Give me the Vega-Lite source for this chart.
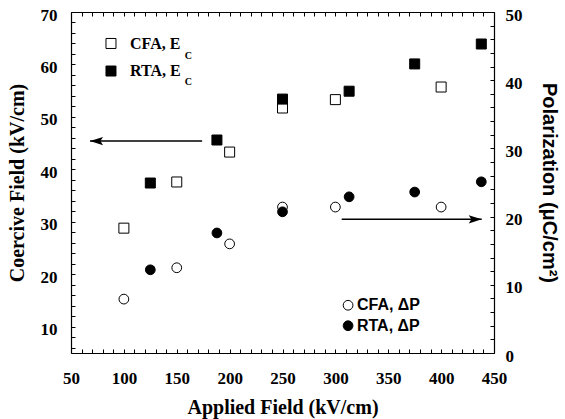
{
  "$schema": "https://vega.github.io/schema/vega-lite/v6.json",
  "width": 423,
  "height": 341,
  "autosize": "none",
  "padding": {"left": 71, "top": 12, "right": 71, "bottom": 66},
  "background": "white",
  "config": {
    "view": {"stroke": null},
    "axis": {
      "grid": false,
      "domainColor": "black",
      "domainWidth": 1.2,
      "tickColor": "black",
      "tickWidth": 1,
      "tickSize": -4,
      "labelColor": "black",
      "labelFont": "Liberation Serif",
      "labelFontWeight": "bold",
      "labelFontSize": 17,
      "titleColor": "black"
    }
  },
  "resolve": {"scale": {"y": "independent"}, "axis": {"x": "independent"}},
  "layer": [
    {
      "encoding": {
        "x": {
          "field": "x", "type": "quantitative",
          "scale": {"domain": [50, 450], "nice": false, "zero": false},
          "axis": {
            "orient": "bottom",
            "values": [50,60,70,80,90,100,110,120,130,140,150,160,170,180,190,200,210,220,230,240,250,260,270,280,290,300,310,320,330,340,350,360,370,380,390,400,410,420,430,440,450],
            "labelExpr": "datum.value % 50 === 0 ? datum.label : ''",
            "labelPadding": 21,
            "labelFlush": false,
            "labelOverlap": false,
            "title": "Applied Field (kV/cm)",
            "titleFont": "Liberation Serif",
            "titleFontWeight": "bold",
            "titleFontSize": 20,
            "titlePadding": 11
          }
        },
        "y": {
          "field": "y", "type": "quantitative",
          "scale": {"domain": [5, 70], "nice": false, "zero": false},
          "axis": {
            "orient": "left",
            "values": [6,8,10,12,14,16,18,20,22,24,26,28,30,32,34,36,38,40,42,44,46,48,50,52,54,56,58,60,62,64,66,68,70],
            "labelExpr": "datum.value % 10 === 0 ? datum.label : ''",
            "labelPadding": 18,
            "labelOffset": 3,
            "labelFlush": false,
            "labelOverlap": false,
            "title": "Coercive Field (kV/cm)",
            "titleFont": "Liberation Serif",
            "titleFontWeight": "bold",
            "titleFontSize": 20,
            "titlePadding": 13
          }
        }
      },
      "layer": [
        {
          "data": {"values": [
            {"s": "CFA", "x": 100, "y": 28.8},
            {"s": "CFA", "x": 150, "y": 37.6},
            {"s": "CFA", "x": 200, "y": 43.3},
            {"s": "CFA", "x": 250, "y": 51.7},
            {"s": "CFA", "x": 300, "y": 53.3},
            {"s": "CFA", "x": 400, "y": 55.7},
            {"s": "RTA", "x": 125, "y": 37.4},
            {"s": "RTA", "x": 188, "y": 45.6},
            {"s": "RTA", "x": 250, "y": 53.4},
            {"s": "RTA", "x": 313, "y": 54.9},
            {"s": "RTA", "x": 375, "y": 60.1},
            {"s": "RTA", "x": 438, "y": 63.9},
            {"s": "CFA", "x": 87.8, "y": 64.0},
            {"s": "RTA", "x": 87.8, "y": 58.75}
          ]},
          "mark": {"type": "point", "shape": "square", "filled": true, "size": 100, "stroke": "black", "strokeWidth": 1, "opacity": 1},
          "encoding": {
            "fill": {"field": "s", "type": "nominal", "scale": {"domain": ["CFA", "RTA"], "range": ["white", "black"]}, "legend": null}
          }
        },
        {
          "data": {"values": [{"x": 68, "x2": 174, "y": 45.4}]},
          "mark": {"type": "rule", "color": "black", "strokeWidth": 1.5},
          "encoding": {"x2": {"field": "x2"}}
        },
        {
          "data": {"values": [{"x": 68, "y": 45.4}]},
          "mark": {"type": "point", "shape": "M0,0L1,-0.32L0.8,0L1,0.32Z", "size": 676, "filled": true, "color": "black", "opacity": 1}
        },
        {
          "data": {"values": [
            {"x": 105.8, "y": 63.9, "t": "CFA,  E"},
            {"x": 105.8, "y": 58.75, "t": "RTA,  E"}
          ]},
          "mark": {"type": "text", "align": "left", "baseline": "middle", "font": "Liberation Serif", "fontWeight": "bold", "fontSize": 16, "color": "black"},
          "encoding": {"text": {"field": "t"}}
        },
        {
          "data": {"values": [
            {"x": 157.5, "y": 61.7, "t": "C"},
            {"x": 157.5, "y": 56.6, "t": "C"}
          ]},
          "mark": {"type": "text", "align": "left", "baseline": "middle", "font": "Liberation Serif", "fontWeight": "bold", "fontSize": 10, "color": "black"},
          "encoding": {"text": {"field": "t"}}
        }
      ]
    },
    {
      "encoding": {
        "x": {
          "field": "x", "type": "quantitative",
          "scale": {"domain": [50, 450], "nice": false, "zero": false},
          "axis": {
            "orient": "top",
            "values": [50,60,70,80,90,100,110,120,130,140,150,160,170,180,190,200,210,220,230,240,250,260,270,280,290,300,310,320,330,340,350,360,370,380,390,400,410,420,430,440,450],
            "labels": false,
            "title": null
          }
        },
        "y": {
          "field": "y", "type": "quantitative",
          "scale": {"domain": [0, 50], "nice": false, "zero": false},
          "axis": {
            "orient": "right",
            "values": [0,2,4,6,8,10,12,14,16,18,20,22,24,26,28,30,32,34,36,38,40,42,44,46,48,50],
            "labelExpr": "datum.value % 10 === 0 ? datum.label : ''",
            "labelPadding": 15,
            "labelOffset": 3,
            "labelFlush": false,
            "labelOverlap": false,
            "title": "Polarization (μC/cm²)",
            "titleFont": "Liberation Sans",
            "titleFontWeight": "bold",
            "titleFontSize": 20,
            "titlePadding": 16
          }
        }
      },
      "layer": [
        {
          "data": {"values": [
            {"s": "CFA", "x": 100, "y": 7.9},
            {"s": "CFA", "x": 150, "y": 12.5},
            {"s": "CFA", "x": 200, "y": 16.0},
            {"s": "CFA", "x": 250, "y": 21.4},
            {"s": "CFA", "x": 300, "y": 21.4},
            {"s": "CFA", "x": 400, "y": 21.4},
            {"s": "RTA", "x": 125, "y": 12.2},
            {"s": "RTA", "x": 188, "y": 17.6},
            {"s": "RTA", "x": 250, "y": 20.7},
            {"s": "RTA", "x": 313, "y": 22.9},
            {"s": "RTA", "x": 375, "y": 23.6},
            {"s": "RTA", "x": 438, "y": 25.1},
            {"s": "CFA", "x": 312, "y": 7.0},
            {"s": "RTA", "x": 312, "y": 4.0}
          ]},
          "mark": {"type": "point", "shape": "circle", "filled": true, "size": 95, "stroke": "black", "strokeWidth": 1, "opacity": 1},
          "encoding": {
            "fill": {"field": "s", "type": "nominal", "scale": {"domain": ["CFA", "RTA"], "range": ["white", "black"]}, "legend": null}
          }
        },
        {
          "data": {"values": [{"x": 306, "x2": 438.4, "y": 19.6}]},
          "mark": {"type": "rule", "color": "black", "strokeWidth": 1.5},
          "encoding": {"x2": {"field": "x2"}}
        },
        {
          "data": {"values": [{"x": 438.4, "y": 19.6}]},
          "mark": {"type": "point", "shape": "M0,0L-1,-0.32L-0.8,0L-1,0.32Z", "size": 676, "filled": true, "color": "black", "opacity": 1}
        },
        {
          "data": {"values": [
            {"x": 320.4, "y": 7.0, "t": "CFA,  ΔP"},
            {"x": 320.4, "y": 4.0, "t": "RTA,  ΔP"}
          ]},
          "mark": {"type": "text", "align": "left", "baseline": "middle", "font": "Liberation Sans", "fontWeight": "bold", "fontSize": 16, "color": "black"},
          "encoding": {"text": {"field": "t"}}
        }
      ]
    }
  ]
}
